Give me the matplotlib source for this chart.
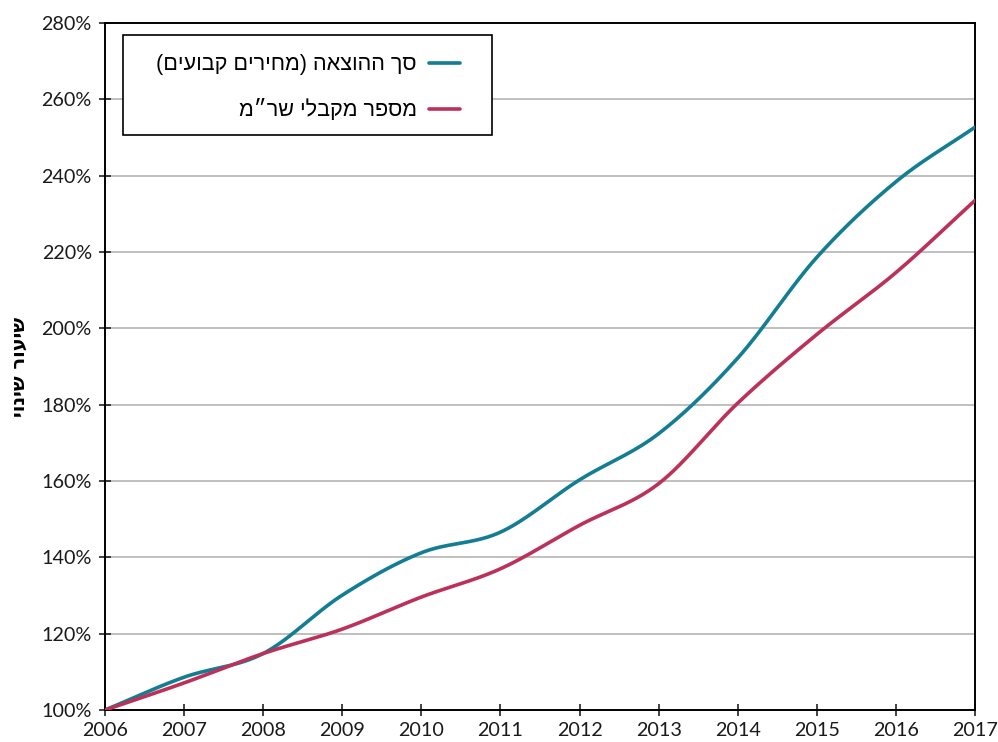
import numpy as np
import matplotlib
matplotlib.use("Agg")
import matplotlib.pyplot as plt
from matplotlib.patches import Rectangle
from matplotlib.ticker import FuncFormatter

# data (percent, 2006 = 100%)
years = [2006, 2007, 2008, 2009, 2010, 2011, 2012, 2013, 2014, 2015, 2016, 2017]
spending = [100, 108.6, 114.8, 130.1, 141.2, 146.6, 160.3, 172.4, 192.2, 218.6, 238.4, 252.7]
recipients = [100, 107.1, 114.8, 121.2, 129.6, 137.0, 148.4, 159.3, 180.4, 198.4, 214.6, 233.5]

# hebrew text in visual order (matplotlib does no bidi)
lbl_spending = "(םיעובק םיריחמ) האצוהה ךס"
lbl_recipients = "מ״רש ילבקמ רפסמ"
ylabel = "יוניש רועיש"

teal = "#137D91"
red = "#BC3159"


def smooth(x, y, n=30):
    # catmull-rom through the points, like a spreadsheet "smoothed line"
    x = np.asarray(x, float)
    y = np.asarray(y, float)
    px = np.concatenate([[2*x[0]-x[1]], x, [2*x[-1]-x[-2]]])
    py = np.concatenate([[2*y[0]-y[1]], y, [2*y[-1]-y[-2]]])
    t = np.linspace(0, 1, n, endpoint=False)
    xs, ys = [], []
    for i in range(1, len(px)-2):
        for p, out in ((px, xs), (py, ys)):
            p0, p1, p2, p3 = p[i-1], p[i], p[i+1], p[i+2]
            out.append(0.5*((2*p1) + (-p0+p2)*t + (2*p0-5*p1+4*p2-p3)*t**2
                            + (-p0+3*p1-3*p2+p3)*t**3))
    xs.append([x[-1]])
    ys.append([y[-1]])
    return np.concatenate(xs), np.concatenate(ys)


fig = plt.figure(figsize=(9.98, 7.42), dpi=100)
ax = fig.add_axes([0.1052, 0.0431, 0.8717, 0.9259])

sx, sy = smooth(years, spending)
ax.plot(sx, sy, color=teal, lw=2.6, label=lbl_spending, solid_capstyle="round", zorder=3)
rx, ry = smooth(years, recipients)
ax.plot(rx, ry, color=red, lw=2.6, label=lbl_recipients, solid_capstyle="round", zorder=3)

ax.set_xlim(2006, 2017)
ax.set_ylim(100, 280)
ax.set_xticks(years)
ax.set_yticks(np.arange(100, 281, 20))
ax.yaxis.set_major_formatter(FuncFormatter(lambda v, p: "%d%%" % v))
ax.grid(axis="y", color="#b4b4b4", lw=1.2)
ax.set_axisbelow(True)

for s in ax.spines.values():
    s.set_color("black")
    s.set_linewidth(1.4)

ax.tick_params(direction="inout", length=9, width=1.2, color="#222222",
               labelsize=14.2, labelcolor="#1a1a1a")
ax.tick_params(axis="y", pad=5)
ax.tick_params(axis="x", pad=4)
for t in ax.get_xticklabels() + ax.get_yticklabels():
    t.set_family(["Lato", "DejaVu Sans"])

ax.set_ylabel(ylabel, family=["DejaVu Sans"], fontweight="bold", fontsize=14, labelpad=9)

# legend box frame drawn separately so the padding can match
ax.add_patch(Rectangle((0.0207, 0.837), 0.4241, 0.1455, transform=ax.transAxes,
                       facecolor="white", edgecolor="black", lw=1.2, zorder=4))
leg = ax.legend(loc="upper right", bbox_to_anchor=(0.408, 0.9543), borderaxespad=0,
                markerfirst=False, frameon=False,
                prop={"family": ["Liberation Sans", "DejaVu Sans"], "size": 15.6},
                handlelength=1.45, handletextpad=0.55, labelspacing=1.1, borderpad=0)
leg.set_zorder(5)

fig.savefig("out.png", dpi=100)
